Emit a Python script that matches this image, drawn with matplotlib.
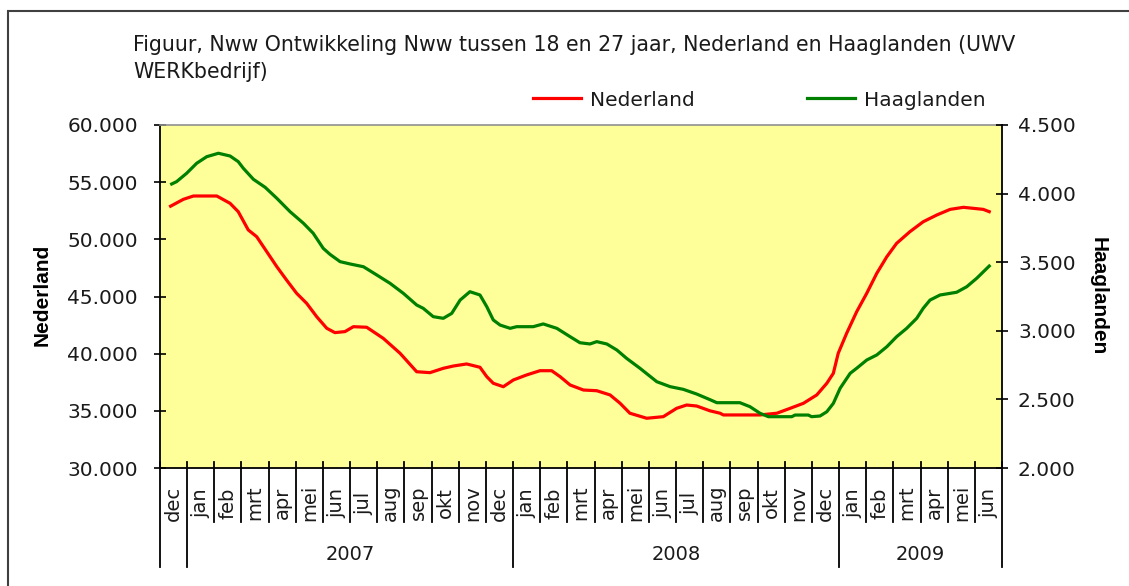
import matplotlib
matplotlib.use("Agg")
import matplotlib.pyplot as plt
from matplotlib.ticker import FuncFormatter, MultipleLocator
from matplotlib.patches import Rectangle

plt.rcParams['font.family'] = ['DejaVu Sans']

# ---- data ----
months = ["dec", "jan", "feb", "mrt", "apr", "mei", "jun", "jul", "aug", "sep", "okt", "nov", "dec",
          "jan", "feb", "mrt", "apr", "mei", "jun", "jul", "aug", "sep", "okt", "nov", "dec",
          "jan", "feb", "mrt", "apr", "mei", "jun"]
years = ["", "2007", "2008", "2009"]
year_spans = [(0, 1), (1, 13), (13, 25), (25, 31)]

# positions in months (0 = start of dec 2006)
ned_x = [0.39, 0.86, 1.23, 2.09, 2.58, 2.88, 3.25, 3.56, 3.93, 4.30, 4.66, 5.03, 5.40, 5.77, 6.14,
         6.44, 6.81, 7.12, 7.61, 8.22, 8.84, 9.45, 9.94, 10.43, 10.80, 11.29, 11.78, 12.03, 12.27,
         12.64, 13.01, 13.50, 13.99, 14.42, 14.73, 15.10, 15.59, 16.08, 16.57, 16.94, 17.30, 17.92,
         18.53, 19.02, 19.39, 19.76, 20.25, 20.62, 20.74, 22.09, 22.71, 23.20, 23.69, 24.18, 24.55,
         24.79, 24.97, 25.28, 25.65, 26.02, 26.39, 26.76, 27.12, 27.61, 28.10, 28.60, 29.09, 29.58,
         29.95, 30.31, 30.53]
ned_y = [52900, 53500, 53790, 53790, 53150, 52420, 50820, 50230, 48920, 47610, 46440, 45280, 44400,
         43230, 42220, 41840, 41930, 42360, 42310, 41340, 40030, 38420, 38340, 38720, 38920, 39100,
         38810, 37990, 37410, 37110, 37700, 38140, 38510, 38510, 37990, 37260, 36820, 36760, 36390,
         35660, 34790, 34350, 34490, 35220, 35510, 35420, 35000, 34790, 34640, 34640, 34790, 35220,
         35660, 36390, 37410, 38280, 40030, 41780, 43670, 45280, 47030, 48480, 49650, 50670, 51540,
         52130, 52620, 52800, 52710, 52620, 52420]

haa_x = [0.43, 0.61, 0.98, 1.35, 1.72, 2.15, 2.58, 2.88, 3.07, 3.44, 3.87, 4.30, 4.79, 5.28, 5.64,
         6.01, 6.26, 6.63, 7.00, 7.49, 7.98, 8.47, 8.96, 9.45, 9.69, 10.06, 10.43, 10.74, 11.05,
         11.41, 11.78, 12.03, 12.27, 12.52, 12.89, 13.13, 13.74, 14.11, 14.61, 15.10, 15.46, 15.83,
         16.08, 16.45, 16.82, 17.18, 17.67, 18.29, 18.78, 19.27, 19.76, 20.25, 20.50, 21.35, 21.72,
         22.09, 22.40, 23.26, 23.38, 23.87, 23.99, 24.30, 24.55, 24.79, 25.04, 25.41, 25.65, 26.02,
         26.39, 26.76, 27.12, 27.49, 27.86, 28.10, 28.35, 28.72, 29.09, 29.33, 29.70, 30.07, 30.53]
haa_y = [4070, 4087, 4148, 4221, 4269, 4294, 4274, 4233, 4184, 4104, 4046, 3966, 3868, 3784, 3711,
         3601, 3557, 3504, 3487, 3467, 3407, 3346, 3273, 3188, 3164, 3103, 3091, 3127, 3224, 3285,
         3261, 3176, 3079, 3042, 3018, 3030, 3030, 3050, 3018, 2957, 2913, 2904, 2921, 2904, 2860,
         2799, 2727, 2629, 2593, 2573, 2539, 2498, 2476, 2476, 2447, 2399, 2374, 2374, 2386, 2386,
         2374, 2379, 2410, 2471, 2581, 2690, 2727, 2787, 2824, 2884, 2957, 3018, 3091, 3164, 3224,
         3261, 3273, 3281, 3321, 3383, 3472]

title_lines = ["Figuur, Nww Ontwikkeling Nww tussen 18 en 27 jaar, Nederland en Haaglanden (UWV",
               "WERKbedrijf)"]

# ---- figure ----
W, H = 1129, 586
fig = plt.figure(figsize=(W / 100, H / 100), dpi=100)
fig.patch.set_facecolor("white")

def fx(px):
    return px / W

def fy(py):
    return 1 - py / H

# outer frame (cropped at right/bottom)
fig.add_artist(Rectangle((fx(8), fy(H + 20)), 1.2, fy(11) - fy(H + 20), transform=fig.transFigure,
                         fill=False, edgecolor="#404040", lw=1.5))

L, R, T, B = 160, 1002, 125, 468
ax = fig.add_axes([fx(L), fy(B), fx(R) - fx(L), fy(T) - fy(B)])
ax.set_facecolor("#FFFF99")
ax.set_xlim(0, len(months))
ax.set_ylim(30000, 60000)
ax.yaxis.set_major_locator(MultipleLocator(5000))
fmt = FuncFormatter(lambda v, p: f"{int(v):,}".replace(",", "."))
ax.yaxis.set_major_formatter(fmt)
ax.set_xticks([])
ax.tick_params(axis="y", direction="inout", length=9, width=1.2, pad=11.5, labelsize=14.5,
               labelcolor="#1a1a1a")
for s in ["left", "bottom"]:
    ax.spines[s].set_color("black")
    ax.spines[s].set_linewidth(1.3)
ax.spines["top"].set_color("#909090")
ax.spines["top"].set_linewidth(1.2)
ax.spines["right"].set_visible(False)

ax2 = ax.twinx()
ax2.set_ylim(2000, 4500)
ax2.yaxis.set_major_locator(MultipleLocator(500))
ax2.yaxis.set_major_formatter(fmt)
ax2.tick_params(axis="y", direction="inout", length=9, width=1.2, pad=7, labelsize=14.5,
                labelcolor="#1a1a1a")
for s in ["left", "top", "bottom"]:
    ax2.spines[s].set_visible(False)
ax2.spines["right"].set_color("black")
ax2.spines["right"].set_linewidth(1.3)

l1, = ax.plot(ned_x, ned_y, color="#FF0000", lw=2.3, label="Nederland", solid_joinstyle="round")
l2, = ax2.plot(haa_x, haa_y, color="#008000", lw=2.3, label="Haaglanden", solid_joinstyle="round")

# category axis: separators, month labels, year labels
tr = ax.get_xaxis_transform()
h = B - T
def ay(py):
    return (B - py) / h

boundaries = list(range(len(months) + 1))
year_bounds = sorted(set([a for a, b in year_spans] + [b for a, b in year_spans]))
for xb in boundaries:
    bottom = ay(567) if xb in year_bounds else ay(522)
    ax.plot([xb, xb], [ay(462), bottom], transform=tr, color="black", lw=1.3, clip_on=False)

for i, m in enumerate(months):
    ax.text(i + 0.5, ay(503), m, transform=tr, rotation=90, ha="center", va="center",
            fontsize=14, color="#1a1a1a")
for (a, b), yl in zip(year_spans, years):
    ax.text((a + b) / 2, ay(555), yl, transform=tr, ha="center", va="center",
            fontsize=14, color="#1a1a1a")

# axis titles
fig.text(fx(42), fy(295), "Nederland", rotation=90, ha="center", va="center",
         fontsize=15, fontweight="bold", color="black", family="Liberation Sans")
fig.text(fx(1098), fy(296), "Haaglanden", rotation=270, ha="center", va="center",
         fontsize=15, fontweight="bold", color="black", family="Liberation Sans")

# title
fig.text(fx(133), fy(45), title_lines[0], ha="left", va="center", fontsize=14.8, color="#1a1a1a")
fig.text(fx(133), fy(72), title_lines[1], ha="left", va="center", fontsize=14.8, color="#1a1a1a")

# legend
leg = fig.legend(handles=[l1, l2], loc="center left", bbox_to_anchor=(fx(533), fy(100)),
                 ncol=2, frameon=False, fontsize=14.5, handlelength=2.4, handletextpad=0.45,
                 columnspacing=5.55, borderpad=0, borderaxespad=0)
for t in leg.get_texts():
    t.set_color("#1a1a1a")

fig.savefig("out.png", dpi=100, facecolor="white")
